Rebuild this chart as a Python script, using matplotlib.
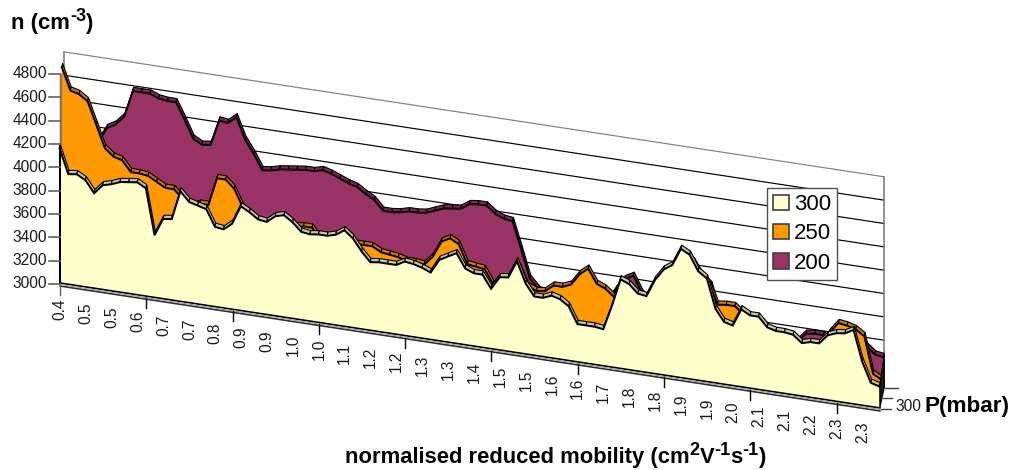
import matplotlib
matplotlib.use('Agg')
import matplotlib.pyplot as plt
import numpy as np
from matplotlib.patches import Patch

plt.rcParams['font.family'] = ['Liberation Sans', 'DejaVu Sans']

# densities for each pressure, one value per mobility point
n_300 = [4170, 3960, 3970, 3930, 3830, 3910, 3930, 3960, 3970, 3980, 3940, 3550, 3700, 3710, 3960, 3880,
         3860, 3840, 3700, 3690, 3750, 3910, 3870, 3820, 3810, 3870, 3890, 3840, 3770, 3760, 3770, 3770,
         3790, 3840, 3780, 3680, 3600, 3610, 3610, 3610, 3650, 3640, 3620, 3590, 3710, 3750, 3790, 3670,
         3640, 3640, 3530, 3640, 3650, 3800, 3620, 3520, 3520, 3550, 3530, 3480, 3340, 3340, 3340, 3330,
         3540, 3780, 3750, 3680, 3670, 3820, 3920, 3970, 4120, 4080, 3950, 3900, 3650, 3550, 3530, 3680,
         3640, 3640, 3560, 3540, 3540, 3530, 3470, 3490, 3490, 3570, 3600, 3610, 3650, 3390, 3220, 3200]
n_250 = [4780, 4590, 4570, 4520, 4330, 4140, 4080, 4060, 3970, 3970, 3960, 3920, 3880, 3880, 3810, 3750,
         3790, 3790, 4030, 4030, 3960, 3810, 3750, 3700, 3680, 3740, 3760, 3720, 3730, 3730, 3640, 3630,
         3640, 3690, 3650, 3650, 3650, 3610, 3600, 3590, 3570, 3570, 3560, 3640, 3780, 3820, 3780, 3620,
         3610, 3600, 3480, 3520, 3520, 3670, 3510, 3480, 3490, 3550, 3550, 3580, 3680, 3740, 3620, 3590,
         3530, 3660, 3620, 3550, 3540, 3690, 3800, 3840, 3990, 3950, 3830, 3770, 3600, 3610, 3610, 3550,
         3520, 3510, 3440, 3410, 3410, 3400, 3340, 3360, 3370, 3510, 3600, 3590, 3570, 3520, 3210, 3170]
n_200 = [3970, 3980, 3990, 4050, 4100, 4230, 4270, 4350, 4580, 4580, 4580, 4550, 4540, 4540, 4400, 4250,
         4210, 4220, 4440, 4430, 4490, 4310, 4200, 4070, 4080, 4100, 4110, 4120, 4130, 4130, 4150, 4130,
         4100, 4070, 4050, 4000, 3960, 3880, 3880, 3890, 3910, 3910, 3920, 3950, 3980, 3990, 4000, 4050,
         4060, 4060, 4000, 3970, 3960, 3730, 3490, 3410, 3370, 3350, 3350, 3310, 3400, 3480, 3450, 3390,
         3510, 3610, 3650, 3510, 3450, 3590, 3690, 3740, 3880, 3850, 3730, 3670, 3440, 3340, 3310, 3460,
         3430, 3420, 3350, 3330, 3320, 3300, 3380, 3390, 3390, 3340, 3400, 3410, 3420, 3350, 3290, 3280]

x_labels = ['0.4', '0.5', '0.5', '0.6', '0.7', '0.7', '0.8', '0.9', '0.9', '1.0', '1.0',
            '1.1', '1.2', '1.2', '1.3', '1.3', '1.4', '1.5', '1.5', '1.6', '1.6', '1.7',
            '1.8', '1.8', '1.9', '1.9', '2.0', '2.1', '2.1', '2.2', '2.3', '2.3']
y_ticks = [3000, 3200, 3400, 3600, 3800, 4000, 4200, 4400, 4600, 4800]
pressures = ['300', '250', '200']


# oblique projection of (point index, density, depth) to picture pixels
def project(i, n, d=0.0):
    i, n, d = np.asarray(i, float), np.asarray(n, float), np.asarray(d, float)
    return 60 + 8.63 * i + 4.5 * d, 283 + 1.315 * i - (n - 3000) * 0.1167 - 21 * d


fig = plt.figure(figsize=(10.12, 4.7), dpi=100)
ax = fig.add_axes([0, 0, 1, 1])
ax.set_xlim(0, 1012)
ax.set_ylim(470, 0)
ax.axis('off')
renderer = fig.canvas.get_renderer()

last = len(n_300) - 1
idx = np.arange(last + 1)

# back wall
for v in y_ticks:
    x, y = project([0, last], [v, v], 1)
    ax.plot(x, y, color='#808080' if v == 4800 else 'black', lw=0.85, zorder=1)
x, y = project([last, last], [3000, 4800], 1)
ax.plot(x, y, color='#808080', lw=1.2, zorder=1)
x, y = project([0, 0], [3000, 4800], 1)
ax.plot(x, y, color='#808080', lw=1.2, zorder=1)

# left side of the slabs
x0, y0 = project([0, 0], [n_300[0], n_250[0]], 0)
ax.plot(x0 + 1, y0, color='#707070', lw=2.5, zorder=2)


def draw_series(values, depth, face, top, z):
    bx, by = project(idx, values, depth - 0.09)
    tx, ty = project(idx, values, depth + 0.09)
    fx, fy = project([last, 0], [3000, 3000], depth - 0.09)
    for k in range(last):
        ax.fill([bx[k], bx[k + 1], tx[k + 1], tx[k]], [by[k], by[k + 1], ty[k + 1], ty[k]],
                facecolor=top, edgecolor='black', lw=0.8, zorder=z)
    ax.fill(np.r_[bx, fx], np.r_[by, fy], facecolor=face, edgecolor='none', zorder=z + 0.1)
    ax.plot(bx, by, color='black', lw=1.4, zorder=z + 0.2, solid_joinstyle='miter')


draw_series(n_200, 0.95, '#993366', '#7a2952', 3)
draw_series(n_250, 0.48, '#ff9900', '#cc7a00', 4)
draw_series(n_300, 0.0, '#ffffcc', '#c8c8a0', 5)

# right end of the slabs
x1, y1 = project([last, last, last, last], [3000, n_300[-1], n_200[-1], 3000], [0, 0, 1, 1])
ax.fill(x1, y1, facecolor='#1a1a1a', edgecolor='black', lw=0.8, zorder=6)

# front edge along the floor
x2, y2 = project([0, last], [3000, 3000], 0)
ax.plot(x2, y2, color='black', lw=1.2, zorder=7)
ax.plot(x2, y2 + 3, color='#303030', lw=1.2, zorder=7)
ax.plot(x2, y2 + 1.5, color='#a0a0a0', lw=0.8, zorder=7)

# left axis
xa, ya = project([0, 0], [3000, n_300[0]], 0)
ax.plot(xa, ya, color='black', lw=1.5, zorder=7)
for v in y_ticks:
    xt, yt = project(0, v, 0)
    ax.plot([xt - 11, xt], [yt + 1, yt + 1], color='#606060', lw=1.2, zorder=7)
    ax.text(xt - 13, yt + 1, str(v), ha='right', va='center', fontsize=11.2, color='#1a1a1a')

# mobility axis
for k in range(0, last, 10):
    xt, yt = project(k, 3000, 0)
    ax.plot([xt, xt], [yt + 2, yt + 12], color='#606060' if k == 0 else 'black', lw=1.0, zorder=7)
for k, lab in enumerate(x_labels):
    xt, yt = project(k * 3, 3000, 0)
    ax.text(xt, yt + 16, lab, rotation=90, ha='center', va='top', fontsize=11.2, color='#1a1a1a')

# pressure axis
for d, tick_len in zip([0, 0.5, 1], [11, 10, 14]):
    xt, yt = project(last, 3000, d)
    ax.plot([xt + 1, xt + tick_len], [yt + 1, yt + 1], color='#404040', lw=1.0, zorder=7)
xt, yt = project(last, 3000, 0)
ax.text(xt + 16, yt - 1, pressures[0], ha='left', va='center', fontsize=11.2, color='#1a1a1a')
ax.text(925, yt - 1, 'P(mbar)', ha='left', va='center', fontsize=16.2, fontweight='bold')


# bold label with real superscripts, written piece by piece
def bold_label(x, y, parts):
    for s, sup in parts:
        t = ax.text(x, y - 8 if sup else y, s, ha='left', va='baseline', fontweight='bold',
                    fontsize=13 if sup else 15.8)
        x += t.get_window_extent(renderer).width


bold_label(11, 29, [('n (cm', False), ('-3', True), (')', False)])
bold_label(345, 463, [('normalised reduced mobility (cm', False), ('2', True), ('V', False), ('-1', True),
                      ('s', False), ('-1', True), (')', False)])

handles = [Patch(facecolor=c, edgecolor='#404040', lw=1.2) for c in ['#ffffcc', '#ff9900', '#993366']]
leg = ax.legend(handles, pressures, loc='upper left', bbox_to_anchor=(767.5 / 1012, 1 - 188 / 470),
                fontsize=16, fancybox=False, framealpha=1, edgecolor='#505050', borderaxespad=0,
                borderpad=0.27, handlelength=0.68, handleheight=0.68, handletextpad=0.24, labelspacing=0.38)
leg.set_zorder(10)
leg.get_frame().set_linewidth(1.0)

fig.savefig('out.png', dpi=100)
